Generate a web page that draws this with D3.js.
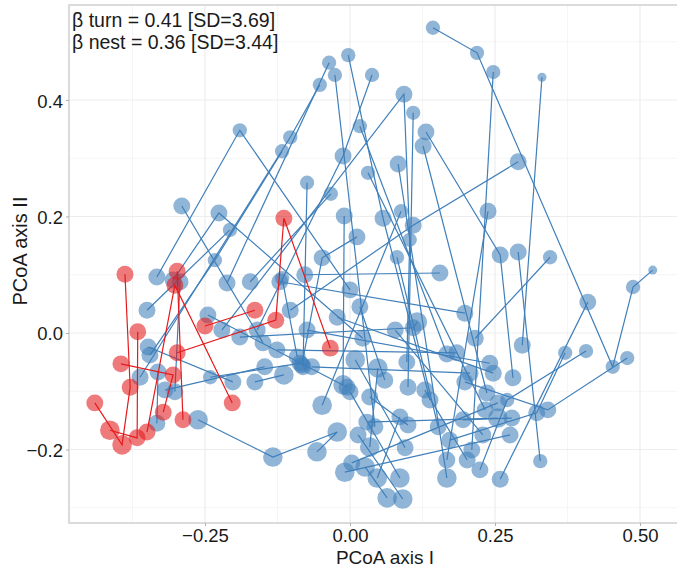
<!DOCTYPE html>
<html>
<head>
<meta charset="utf-8">
<script src="https://cdn.jsdelivr.net/npm/d3@7"></script>
<style>
  body { margin: 0; background: #fff; }
  svg { display: block; font-family: "Liberation Sans", Arial, sans-serif; }
</style>
</head>
<body>
<svg></svg>
<script>
var width = 677,
    height = 569;

// panel edges (the panel runs a bit past the right side of the picture)
var margin = {left: 69, right: 701, top: 5, bottom: 523};

// tick values and labels
var xTicks = [-0.25, 0, 0.25, 0.5],
    xTickLabels = ['\u22120.25', '0.00', '0.25', '0.50'],
    xMinor = [-0.375, -0.125, 0.125, 0.375],
    yTicks = [-0.2, 0, 0.2, 0.4],
    yTickLabels = ['\u22120.2', '0.0', '0.2', '0.4'],
    yMinor = [-0.3, -0.1, 0.1, 0.3, 0.5];

var annotation = ['\u03b2 turn = 0.41 [SD=3.69]', '\u03b2 nest = 0.36 [SD=3.44]'];

// trajectories: each point is [PCoA I, PCoA II, size]
var blueTracks = [
    [[0.143, 0.524, 3], [0.219, 0.481, 3], [0.453, -0.058, 3], [0.488, 0.079, 3], [0.522, 0.108, 1]],
    [[0.247, 0.448, 3], [0.210, -0.201, 4]],
    [[0.331, 0.439, 1], [0.297, -0.021, 4]],
    [[0.290, 0.294, 4], [0.109, 0.185, 4], [-0.103, 0.039, 4]],
    [[0.131, 0.345, 4], [0.259, 0.134, 4], [0.281, -0.077, 4]],
    [[0.126, 0.321, 4], [0.236, -0.103, 4]],
    [[-0.221, 0.005, 4], [0.093, 0.410, 4], [0.103, 0.160, 3], [0.098, -0.050, 4]],
    [[-0.003, 0.477, 3], [0.057, 0.197, 4], [0.138, -0.115, 4]],
    [[-0.036, 0.464, 3], [-0.212, 0.086, 4]],
    [[-0.026, 0.443, 3], [0.043, -0.161, 4]],
    [[0.038, 0.443, 3], [-0.012, 0.304, 4], [-0.160, 0.005, 4]],
    [[0.109, 0.378, 3], [0.100, -0.093, 4]],
    [[0.017, 0.355, 3], [0.167, -0.036, 4]],
    [[0.031, 0.275, 3], [0.233, -0.132, 4]],
    [[0.083, 0.290, 4], [0.167, -0.249, 5]],
    [[-0.074, 0.258, 3], [-0.081, -0.058, 4]],
    [[-0.333, 0.096, 4], [-0.190, 0.348, 3], [0.000, 0.074, 4]],
    [[-0.290, 0.218, 4], [-0.150, -0.017, 4]],
    [[-0.305, 0.091, 4], [-0.226, 0.206, 4], [0.022, -0.009, 4]],
    [[-0.207, 0.177, 3], [-0.350, 0.039, 4]],
    [[-0.117, 0.312, 3], [-0.233, 0.125, 3], [-0.345, -0.038, 4]],
    [[-0.362, -0.076, 4], [-0.103, 0.336, 3], [-0.052, 0.426, 3]],
    [[-0.010, 0.201, 4], [-0.012, -0.089, 5]],
    [[0.088, 0.209, 3], [-0.048, -0.124, 5]],
    [[0.238, 0.209, 4], [0.167, -0.218, 4]],
    [[0.012, 0.165, 4], [-0.048, 0.129, 4], [-0.083, -0.055, 4]],
    [[0.290, 0.139, 4], [0.328, -0.220, 3]],
    [[0.345, 0.130, 3], [0.216, -0.009, 4]],
    [[0.410, 0.053, 4], [0.259, -0.251, 4]],
    [[0.478, -0.043, 3], [0.341, -0.132, 4], [0.198, -0.084, 4]],
    [[0.371, -0.034, 3], [0.322, -0.137, 4], [0.172, -0.184, 4]],
    [[0.407, -0.031, 3], [0.271, -0.115, 3], [0.224, -0.235, 4]],
    [[0.155, 0.103, 4], [-0.078, 0.100, 4]],
    [[0.198, 0.034, 4], [-0.121, 0.088, 4]],
    [[0.081, 0.130, 3], [0.152, -0.161, 4]],
    [[0.078, 0.005, 4], [0.229, -0.175, 4]],
    [[0.116, 0.019, 5], [0.109, 0.009, 4], [-0.190, -0.007, 4]],
    [[0.017, 0.045, 4], [0.060, -0.081, 4]],
    [[-0.022, 0.027, 4], [0.247, -0.069, 4]],
    [[-0.074, 0.005, 4], [0.241, -0.052, 4]],
    [[-0.066, -0.058, 4], [0.207, -0.069, 4]],
    [[0.009, -0.046, 5], [0.095, -0.197, 4]],
    [[0.000, -0.101, 4], [0.086, -0.249, 5]],
    [[0.048, -0.060, 5], [0.034, -0.196, 5]],
    [[0.034, -0.110, 4], [0.100, -0.158, 4]],
    [[0.129, -0.098, 4], [0.202, -0.218, 4]],
    [[0.255, -0.120, 4], [0.003, -0.223, 4]],
    [[0.255, -0.146, 5], [0.029, -0.153, 4]],
    [[0.279, -0.146, 4], [0.195, -0.149, 4]],
    [[0.276, -0.175, 4], [-0.009, -0.239, 5]],
    [[0.086, -0.144, 4], [0.047, -0.249, 5]],
    [[0.026, -0.230, 5], [0.064, -0.283, 5]],
    [[0.091, -0.285, 5], [0.014, -0.175, 4]],
    [[-0.262, -0.149, 5], [-0.133, -0.213, 5], [-0.022, -0.170, 5], [-0.057, -0.204, 5]],
    [[-0.293, 0.088, 4], [-0.302, -0.101, 4]],
    [[-0.245, 0.031, 4], [-0.005, -0.093, 4]],
    [[-0.126, -0.029, 4], [0.184, -0.034, 4]],
    [[-0.348, -0.024, 4], [-0.202, -0.084, 4]],
    [[-0.319, -0.098, 4], [-0.147, -0.058, 4]],
    [[-0.241, -0.076, 3], [-0.086, -0.052, 4]],
    [[-0.164, -0.084, 4], [-0.114, -0.072, 5]],
    [[-0.333, -0.155, 4], [-0.331, -0.067, 4]],
    [[-0.117, 0.094, 3], [-0.091, -0.041, 4]],
    [[-0.172, 0.088, 4], [-0.033, 0.239, 3]]
];

var redTracks = [
    [[-0.388, 0.101, 4], [-0.379, -0.093, 4], [-0.393, -0.192, 5], [-0.440, -0.120, 4]],
    [[-0.366, 0.002, 4], [-0.367, -0.180, 4], [-0.414, -0.167, 5]],
    [[-0.298, 0.106, 4], [-0.288, -0.149, 4]],
    [[-0.350, -0.170, 4], [-0.302, 0.082, 4], [-0.203, -0.120, 4]],
    [[-0.322, -0.136, 4], [-0.305, -0.072, 4], [-0.395, -0.053, 4]],
    [[-0.298, -0.034, 4], [-0.128, 0.022, 4], [-0.114, 0.197, 4], [-0.034, -0.026, 4]],
    [[-0.250, 0.012, 4], [-0.164, 0.039, 4]]
];

var blue = '#3f7fba',
    red = '#e41a1c';

var x = d3.scaleLinear()
    .domain([-0.4845, 0.6052])
    .range([margin.left, margin.right]);

var y = d3.scaleLinear()
    .domain([-0.3262, 0.5631])
    .range([margin.bottom, margin.top]);

var r = d3.scaleLinear()
    .domain([1, 5])
    .range([4.5, 9.8]);

var svg = d3.select('svg')
    .attr('width', width)
    .attr('height', height);

svg.append('defs').append('clipPath')
    .attr('id', 'panel-clip')
    .append('rect')
    .attr('x', margin.left)
    .attr('y', margin.top)
    .attr('width', margin.right - margin.left)
    .attr('height', margin.bottom - margin.top);

// grid
var grid = svg.append('g');

grid.selectAll('.minor-x')
    .data(xMinor)
    .enter().append('line')
    .attr('x1', x).attr('x2', x)
    .attr('y1', margin.top).attr('y2', margin.bottom)
    .attr('stroke', '#f5f5f5')
    .attr('stroke-width', 1);

grid.selectAll('.minor-y')
    .data(yMinor)
    .enter().append('line')
    .attr('y1', y).attr('y2', y)
    .attr('x1', margin.left).attr('x2', margin.right)
    .attr('stroke', '#f5f5f5')
    .attr('stroke-width', 1);

grid.selectAll('.major-x')
    .data(xTicks)
    .enter().append('line')
    .attr('x1', x).attr('x2', x)
    .attr('y1', margin.top).attr('y2', margin.bottom)
    .attr('stroke', '#ededed')
    .attr('stroke-width', 1.2);

grid.selectAll('.major-y')
    .data(yTicks)
    .enter().append('line')
    .attr('y1', y).attr('y2', y)
    .attr('x1', margin.left).attr('x2', margin.right)
    .attr('stroke', '#ededed')
    .attr('stroke-width', 1.2);

var line = d3.line()
    .x(function(d) { return x(d[0]); })
    .y(function(d) { return y(d[1]); });

var plot = svg.append('g')
    .attr('clip-path', 'url(#panel-clip)');

function drawTracks(tracks, color) {
    var g = plot.append('g');

    g.selectAll('path')
        .data(tracks)
        .enter().append('path')
        .attr('d', line)
        .attr('fill', 'none')
        .attr('stroke', color)
        .attr('stroke-width', 1.2);

    g.selectAll('circle')
        .data(d3.merge(tracks))
        .enter().append('circle')
        .attr('cx', function(d) { return x(d[0]); })
        .attr('cy', function(d) { return y(d[1]); })
        .attr('r', function(d) { return r(d[2]); })
        .attr('fill', color)
        .attr('fill-opacity', 0.58);
}

drawTracks(blueTracks, blue);
drawTracks(redTracks, red);

// panel border
svg.append('rect')
    .attr('x', margin.left)
    .attr('y', margin.top)
    .attr('width', margin.right - margin.left)
    .attr('height', margin.bottom - margin.top)
    .attr('fill', 'none')
    .attr('stroke', '#cfcfcf')
    .attr('stroke-width', 1.5);

// axes
var xAxis = svg.append('g')
    .attr('transform', 'translate(0,' + margin.bottom + ')')
    .call(d3.axisBottom(x)
        .tickValues(xTicks)
        .tickFormat(function(d, i) { return xTickLabels[i]; })
        .tickSizeInner(3)
        .tickSizeOuter(0));

var yAxis = svg.append('g')
    .attr('transform', 'translate(' + margin.left + ',0)')
    .call(d3.axisLeft(y)
        .tickValues(yTicks)
        .tickFormat(function(d, i) { return yTickLabels[i]; })
        .tickSizeInner(3)
        .tickSizeOuter(0)
        .tickPadding(3));

svg.selectAll('.domain').remove();
svg.selectAll('.tick line').attr('stroke', '#b0b0b0');
svg.selectAll('.tick text')
    .attr('fill', '#1a1a1a')
    .attr('dy', null)
    .style('font-size', '18.5px')
    .style('font-family', '"Liberation Sans", Arial, sans-serif');

xAxis.selectAll('.tick text').attr('y', 19);
yAxis.selectAll('.tick text').attr('y', 7);

// axis titles
svg.append('text')
    .attr('x', 385)
    .attr('y', 564)
    .attr('text-anchor', 'middle')
    .attr('fill', '#1a1a1a')
    .style('font-size', '19px')
    .text('PCoA axis I');

svg.append('text')
    .attr('transform', 'translate(27,251)rotate(-90)')
    .attr('text-anchor', 'middle')
    .attr('fill', '#1a1a1a')
    .style('font-size', '20px')
    .text('PCoA axis II');

// beta diversity note, one line per statistic
svg.selectAll('.note')
    .data(annotation)
    .enter().append('text')
    .attr('class', 'note')
    .attr('x', 72)
    .attr('y', function(d, i) { return 27 + i * 21.5; })
    .attr('fill', '#1a1a1a')
    .style('font-size', '19.5px')
    .text(function(d) { return d; });
</script>
</body>
</html>
